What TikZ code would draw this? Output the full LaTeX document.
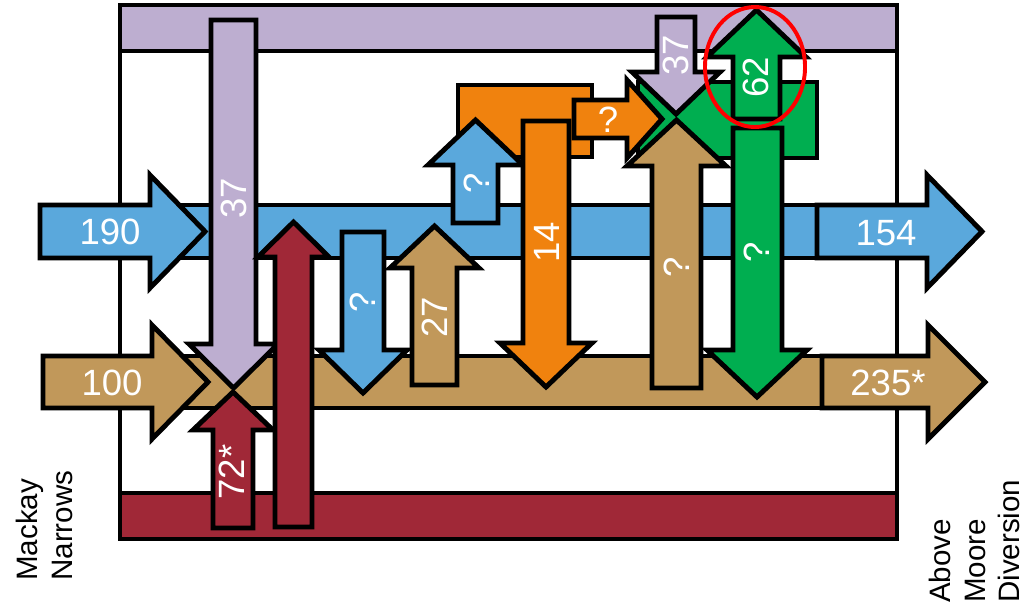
\documentclass[tikz,border=0pt]{standalone}
\usepackage{fontspec}
\setmainfont{Liberation Sans}
\usepackage{tikz}
\definecolor{flowblue}{RGB}{90,168,220}
\definecolor{flowtan}{RGB}{193,152,90}
\definecolor{flowlilac}{RGB}{189,174,208}
\definecolor{flowred}{RGB}{160,40,55}
\definecolor{floworange}{RGB}{240,130,14}
\definecolor{flowgreen}{RGB}{0,174,80}

\begin{document}
\begin{tikzpicture}[x=0.025cm, y=-0.025cm,
			flow/.style={draw=black, line width=3.5pt, line join=miter},
			bluef/.style={flow, fill=flowblue},
			tanf/.style={flow, fill=flowtan},
			lilacf/.style={flow, fill=flowlilac},
			redf/.style={flow, fill=flowred},
			orangef/.style={flow, fill=floworange},
			greenf/.style={flow, fill=flowgreen},
			lbl/.style={text=white, font=\fontsize{26}{30}\selectfont, inner sep=0pt},
			vlbl/.style={lbl, rotate=90},
			site/.style={text=black, font=\fontsize{21}{24.5}\selectfont, rotate=90,
				align=left, inner sep=0pt, anchor=north west}]
			
			\useasboundingbox (0,0) rectangle (1036,608);
			
			% Frame and bands
			\draw[flow, fill=white] (120,5) rectangle (897,539);
			\draw[lilacf] (120,5) rectangle (897,51);
			\draw[redf] (120,493) rectangle (897,539);
			\draw[bluef] (120,205) rectangle (817,258);
			\draw[tanf] (120,356) rectangle (822,408);
			
			% Inflow and outflow
			\draw[bluef] (40,205) -- (150,205) -- (150,175) -- (205,231.5) -- (150,288) -- (150,258) -- (40,258) -- cycle;
			\draw[bluef] (817,205) -- (927,205) -- (927,175) -- (982,231.5) -- (927,288) -- (927,258) -- (817,258) -- cycle;
			\draw[tanf] (43,356) -- (152,356) -- (152,325) -- (208,382) -- (152,439) -- (152,408) -- (43,408) -- cycle;
			\draw[tanf] (822,356) -- (928,356) -- (928,325) -- (985,382) -- (928,439) -- (928,408) -- (822,408) -- cycle;
			
			% Exchanges, left part
			\draw[lilacf] (211,20) -- (211,344) -- (189,344) -- (233.5,388) -- (278,344) -- (256,344) -- (256,20) -- cycle;
			\draw[redf] (213,528) -- (213,430) -- (193,430) -- (233,392) -- (273,430) -- (253,430) -- (253,528) -- cycle;
			\draw[redf] (275,527) -- (275,257) -- (258,257) -- (293.5,222) -- (329,257) -- (312,257) -- (312,527) -- cycle;
			\draw[bluef] (342,232) -- (342,350) -- (319,350) -- (363,393) -- (407,350) -- (384,350) -- (384,232) -- cycle;
			\draw[tanf] (412,385) -- (412,268) -- (390,268) -- (434.5,226) -- (479,268) -- (457,268) -- (457,385) -- cycle;
			
			% Orange pool
			\draw[orangef] (458,85) rectangle (592,157);
			\draw[bluef] (453,223) -- (453,165) -- (428,165) -- (475.5,120) -- (523,165) -- (498,165) -- (498,223) -- cycle;
			\draw[orangef] (523,121) -- (523,343) -- (500,343) -- (546,387) -- (592,343) -- (569,343) -- (569,121) -- cycle;
			
			% Green pool
			\draw[greenf] (638,82) rectangle (817,158);
			\draw[orangef] (574,100) -- (627,100) -- (627,80) -- (662,119) -- (627,158) -- (627,138) -- (574,138) -- cycle;
			\draw[lilacf] (657,17) -- (657,72) -- (632,72) -- (676,114) -- (720,72) -- (695,72) -- (695,17) -- cycle;
			\draw[tanf] (652,388) -- (652,166) -- (627,166) -- (676.5,120) -- (726,166) -- (701,166) -- (701,388) -- cycle;
			\draw[greenf] (733,119) -- (733,57) -- (707,57) -- (756.5,10) -- (806,57) -- (780,57) -- (780,119) -- cycle;
			\draw[greenf] (733,128) -- (733,350) -- (707,350) -- (757,397) -- (807,350) -- (782,350) -- (782,128) -- cycle;
			
			\draw[red, line width=2.8pt] (755,67) ellipse [x radius=1.25cm, y radius=1.5cm];
			
			% Labels
			\node[lbl] (l190) at (110,232) {190};
			\node[lbl] (l100) at (112,383) {100};
			\node[lbl] (l154) at (886,233) {154};
			\node[lbl] (l235) at (888,383) {235*};
			\node[vlbl] (l37a) at (234,198) {37};
			\node[vlbl] (l72) at (232,472) {72*};
			\node[vlbl] (lqa) at (363,302) {?};
			\node[vlbl] (l27) at (435,317) {27};
			\node[vlbl] (lqb) at (477,183) {?};
			\node[vlbl] (l14) at (547,242) {14};
			\node[lbl] (lqc) at (608,120) {?};
			\node[vlbl] (l37b) at (676,55) {37};
			\node[vlbl] (l62) at (756,77) {62};
			\node[vlbl] (lqd) at (677,267) {?};
			\node[vlbl] (lqe) at (757,252) {?};
			
			\node[site] (mackay) at (16,581) {Mackay\\Narrows};
			\node[site] (moore) at (929,603) {Above\\Moore\\Diversion};
		\end{tikzpicture}
\end{document}
